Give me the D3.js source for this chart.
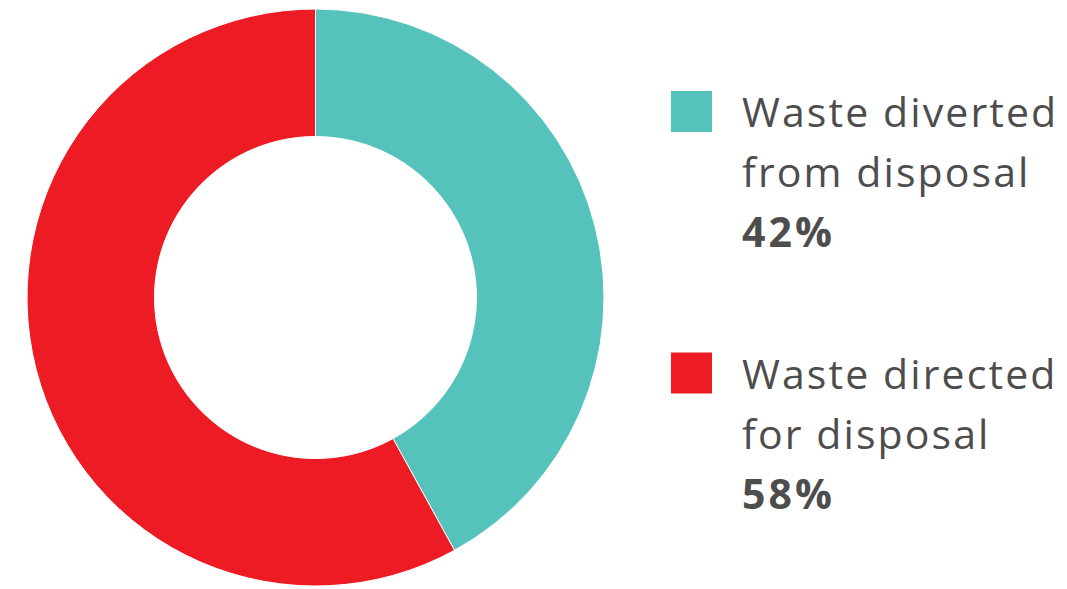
<!DOCTYPE html>
<html><head><meta charset="utf-8">
<script src="https://cdn.jsdelivr.net/npm/d3@7"></script>
<style>body{margin:0;background:#fff}svg{display:block}</style>
</head><body>
<svg id="c" width="1067" height="589"></svg>
<script>
const categories = ["Waste diverted from disposal", "Waste directed for disposal"];
const labelLines = [["Waste diverted", "from disposal"], ["Waste directed", "for disposal"]];
const values = [42, 58];
const colors = ["#55c2bb", "#ed1c24"];

const svg = d3.select("#c");
const cx = 315.5, cy = 297.5, rOuter = 288.5, rInner = 161;
const pie = d3.pie().sort(null).value(d => d);
const arc = d3.arc().innerRadius(rInner).outerRadius(rOuter);
const g = svg.append("g").attr("transform", `translate(${cx},${cy})`);
g.selectAll("path").data(pie(values)).join("path")
  .attr("d", arc)
  .attr("fill", (d, i) => colors[i])
  .attr("stroke", "#fff").attr("stroke-width", 1);

const legendY = d3.scalePoint().domain(categories).range([91, 352.5]);
const lg = svg.append("g");
categories.forEach((c, i) => {
  const y0 = legendY(c);
  lg.append("rect").attr("x", 671).attr("y", y0).attr("width", 41).attr("height", 41).attr("fill", colors[i]);
  const t = lg.append("text").attr("font-family", "'Open Sans', sans-serif").attr("fill", "#4d4d4d")
    .attr("font-size", 41).attr("letter-spacing", "2.1px");
  labelLines[i].forEach((l, j) => {
    t.append("tspan").attr("x", 742).attr("y", y0 + 36 + j * 60).text(l);
  });
  t.append("tspan").attr("x", 742).attr("y", y0 + 36 + 120).attr("font-weight", 700)
    .attr("letter-spacing", "3px").text(values[i] + "%");
});
</script>
</body></html>
